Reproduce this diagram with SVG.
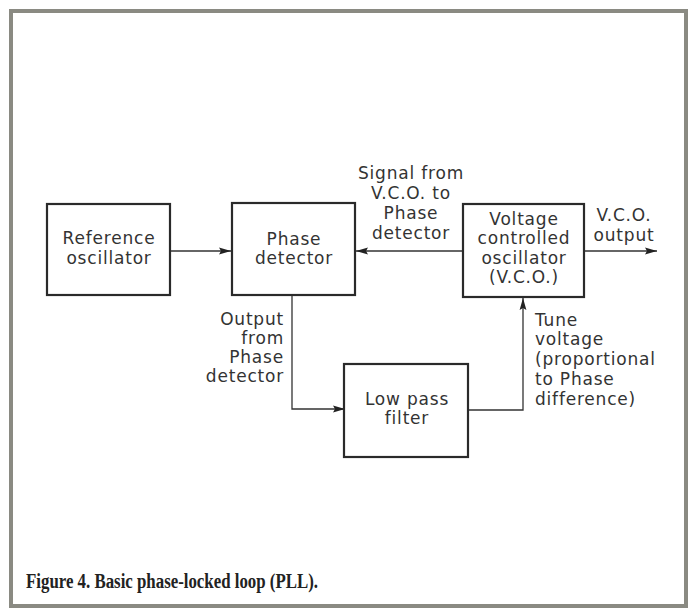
<svg xmlns="http://www.w3.org/2000/svg" width="689" height="608" viewBox="0 0 689 608">
<defs>
<marker id="arr" markerUnits="userSpaceOnUse" markerWidth="14" markerHeight="10" refX="12" refY="5" orient="auto">
<path d="M0,1.6 L12,5 L0,8.4 L2,5 Z" fill="#222"/>
</marker>
<style>
.box{fill:#fff;stroke:#2a2a2a;stroke-width:2.2}
.t{font-family:"DejaVu Sans",sans-serif;font-size:17px;fill:#333;letter-spacing:0.8px}
.m{text-anchor:middle}
.e{text-anchor:end}
.con{fill:none;stroke:#333;stroke-width:1.3}
</style>
</defs>
<rect x="0" y="0" width="689" height="608" fill="#fff"/>
<rect x="11" y="11" width="675" height="595" fill="#fff" stroke="#8a8a82" stroke-width="4"/>

<g id="connectors">
<line class="con" x1="170" y1="251" x2="231" y2="251" marker-end="url(#arr)"/>
<line class="con" x1="463" y1="251" x2="356" y2="251" marker-end="url(#arr)"/>
<line class="con" x1="584" y1="251" x2="657" y2="251" marker-end="url(#arr)"/>
<polyline class="con" points="292,295 292,409 345,409" marker-end="url(#arr)"/>
<polyline class="con" points="468,410 523,410 523,298" marker-end="url(#arr)"/>
</g>

<g id="ref-osc">
<rect class="box" x="47" y="204" width="123" height="91"/>
<text class="t m" x="109" y="244">Reference</text>
<text class="t m" x="109" y="264">oscillator</text>
</g>

<g id="phase-det">
<rect class="box" x="232" y="203" width="123" height="92"/>
<text class="t m" x="294" y="245">Phase</text>
<text class="t m" x="294" y="264">detector</text>
</g>

<g id="vco">
<rect class="box" x="463" y="204" width="121" height="93"/>
<text class="t m" x="524" y="225">Voltage</text>
<text class="t m" x="524" y="244">controlled</text>
<text class="t m" x="524" y="264">oscillator</text>
<text class="t m" x="524" y="283">(V.C.O.)</text>
</g>

<g id="lpf">
<rect class="box" x="344" y="364" width="124" height="93"/>
<text class="t m" x="407" y="405">Low pass</text>
<text class="t m" x="407" y="424">filter</text>
</g>

<g id="labels">
<text class="t m" x="411" y="179">Signal from</text>
<text class="t m" x="411" y="199">V.C.O. to</text>
<text class="t m" x="411" y="219">Phase</text>
<text class="t m" x="411" y="239">detector</text>
<text class="t m" x="624" y="221">V.C.O.</text>
<text class="t m" x="624" y="241">output</text>
<text class="t e" x="284" y="325">Output</text>
<text class="t e" x="284" y="344">from</text>
<text class="t e" x="284" y="363">Phase</text>
<text class="t e" x="284" y="382">detector</text>
<text class="t" x="535" y="326">Tune</text>
<text class="t" x="535" y="345">voltage</text>
<text class="t" x="535" y="365">(proportional</text>
<text class="t" x="535" y="385">to Phase</text>
<text class="t" x="535" y="405">difference)</text>
</g>

<text x="26" y="588" font-family="'Liberation Serif',serif" font-weight="bold" font-size="20" fill="#222" textLength="292" lengthAdjust="spacingAndGlyphs">Figure 4. Basic phase-locked loop (PLL).</text>
</svg>
